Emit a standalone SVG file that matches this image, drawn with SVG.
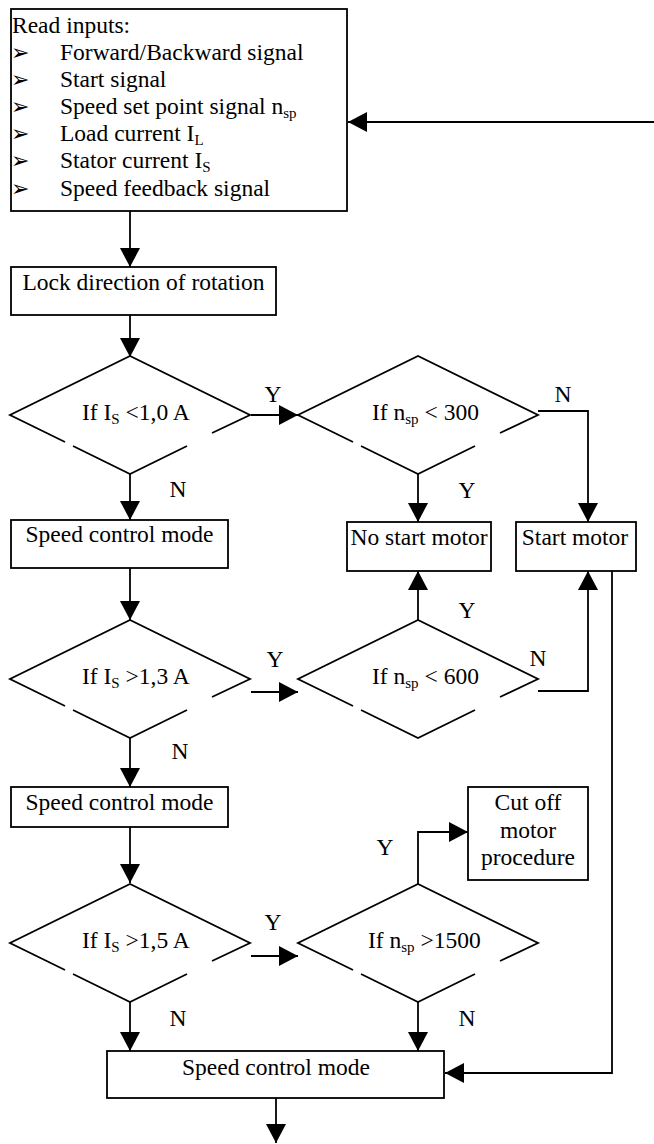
<svg xmlns="http://www.w3.org/2000/svg" width="654" height="1144" viewBox="0 0 654 1144">
<style>
  .box { fill: #fff; stroke: #000; stroke-width: 1.8; }
  .dia { fill: none; stroke: #000; stroke-width: 1.8; }
  .ln { fill: none; stroke: #000; stroke-width: 1.8; }
  .arr { marker-end: url(#ah); }
  text { font-family: "Liberation Serif", "Times New Roman", serif; font-size: 23.5px; fill: #000; }
  .c { text-anchor: middle; }
  .sub { font-size: 15px; }
  .bul { font-family: "DejaVu Sans", sans-serif; font-size: 22px; }
</style>
<defs>
  <marker id="ah" markerUnits="userSpaceOnUse" markerWidth="20" markerHeight="20" refX="19" refY="10" orient="auto">
    <path d="M0,0 L19,10 L0,20 Z" fill="#000"/>
  </marker>
</defs>
<rect width="654" height="1144" fill="#fff"/>

<g id="connectors">
  <path class="ln arr" d="M654,122 L348,122"/>
  <path class="ln arr" d="M130,211 L130,267"/>
  <path class="ln arr" d="M130,315 L130,357"/>
  <path class="ln arr" d="M251,415 L298,415"/>
  <path class="ln arr" d="M130,474 L130,520"/>
  <path class="ln arr" d="M418,474 L418,522"/>
  <path class="ln arr" d="M538,411 L588,411 L588,522"/>
  <path class="ln arr" d="M130,568 L130,620"/>
  <path class="ln arr" d="M251,692 L298,692"/>
  <path class="ln arr" d="M130,738 L130,787"/>
  <path class="ln arr" d="M418,620 L418,571"/>
  <path class="ln arr" d="M538,691 L588,691 L588,571"/>
  <path class="ln arr" d="M130,827 L130,883"/>
  <path class="ln arr" d="M251,956 L298,956"/>
  <path class="ln arr" d="M418,884 L418,832 L468,832"/>
  <path class="ln arr" d="M130,1002 L130,1051"/>
  <path class="ln arr" d="M418,1002 L418,1051"/>
  <path class="ln arr" d="M612,571 L612,1073 L445,1073"/>
  <path class="ln arr" d="M276,1098 L276,1143"/>
  <text class="c" x="273" y="402">Y</text>
  <text class="c" x="563" y="402">N</text>
  <text class="c" x="178" y="497">N</text>
  <text class="c" x="467" y="498">Y</text>
  <text class="c" x="275" y="667">Y</text>
  <text class="c" x="180" y="759">N</text>
  <text class="c" x="467" y="618">Y</text>
  <text class="c" x="538" y="666">N</text>
  <text class="c" x="385" y="855">Y</text>
  <text class="c" x="273" y="930">Y</text>
  <text class="c" x="178" y="1026">N</text>
  <text class="c" x="467" y="1026">N</text>
</g>

<g id="read-inputs">
  <rect class="box" x="11" y="9" width="336" height="202"/>
  <text x="12" y="33">Read inputs:</text>
  <text class="bul" x="11" y="60">➢</text>
  <text x="60" y="60">Forward/Backward signal</text>
  <text class="bul" x="11" y="87">➢</text>
  <text x="60" y="87">Start signal</text>
  <text class="bul" x="11" y="114">➢</text>
  <text x="60" y="114">Speed set point signal n<tspan class="sub" dy="4">sp</tspan></text>
  <text class="bul" x="11" y="141">➢</text>
  <text x="60" y="141">Load current I<tspan class="sub" dy="4">L</tspan></text>
  <text class="bul" x="11" y="168">➢</text>
  <text x="60" y="168">Stator current I<tspan class="sub" dy="4">S</tspan></text>
  <text class="bul" x="11" y="196">➢</text>
  <text x="60" y="196">Speed feedback signal</text>
</g>

<g id="lock-direction">
  <rect class="box" x="11" y="267" width="265" height="48"/>
  <text class="c" x="143.5" y="290">Lock direction of rotation</text>
</g>

<g id="if-is-1-0">
  <path class="dia" d="M65,442 L10,415 L130,356 L250,415 L212,433 M187,446 L130,474 L73,446"/>
  <text x="82" y="420">If I<tspan class="sub" dy="4">S</tspan><tspan dy="-4"> &lt;1,0 A</tspan></text>
</g>

<g id="if-nsp-300">
  <path class="dia" d="M353,442 L298,415 L418,356 L538,415 L500,433 M475,446 L418,474 L361,446"/>
  <text x="372" y="420">If n<tspan class="sub" dy="4">sp</tspan><tspan dy="-4"> &lt; 300</tspan></text>
</g>

<g id="speed-control-1">
  <rect class="box" x="11" y="520" width="217" height="48"/>
  <text class="c" x="119.5" y="542">Speed control mode</text>
</g>

<g id="no-start-motor">
  <rect class="box" x="347" y="522" width="144" height="49"/>
  <text class="c" x="419" y="545">No start motor</text>
</g>

<g id="start-motor">
  <rect class="box" x="516" y="522" width="120" height="49"/>
  <text class="c" x="575" y="545">Start motor</text>
</g>

<g id="if-is-1-3">
  <path class="dia" d="M65,706 L10,679 L130,620 L250,679 L212,697 M187,710 L130,738 L73,710"/>
  <text x="82" y="684">If I<tspan class="sub" dy="4">S</tspan><tspan dy="-4"> &gt;1,3 A</tspan></text>
</g>

<g id="if-nsp-600">
  <path class="dia" d="M353,706 L298,679 L418,620 L538,679 L500,697 M475,710 L418,738 L361,710"/>
  <text x="372" y="684">If n<tspan class="sub" dy="4">sp</tspan><tspan dy="-4"> &lt; 600</tspan></text>
</g>

<g id="speed-control-2">
  <rect class="box" x="11" y="787" width="217" height="40"/>
  <text class="c" x="119.5" y="810">Speed control mode</text>
</g>

<g id="cut-off-motor">
  <rect class="box" x="468" y="787" width="120" height="93"/>
  <text class="c" x="528" y="810">Cut off</text>
  <text class="c" x="528" y="838">motor</text>
  <text class="c" x="528" y="865">procedure</text>
</g>

<g id="if-is-1-5">
  <path class="dia" d="M65,970 L10,943 L130,884 L250,943 L212,961 M187,974 L130,1002 L73,974"/>
  <text x="82" y="948">If I<tspan class="sub" dy="4">S</tspan><tspan dy="-4"> &gt;1,5 A</tspan></text>
</g>

<g id="if-nsp-1500">
  <path class="dia" d="M353,970 L298,943 L418,884 L538,943 L500,961 M475,974 L418,1002 L361,974"/>
  <text x="368" y="948">If n<tspan class="sub" dy="4">sp</tspan><tspan dy="-4"> &gt;1500</tspan></text>
</g>

<g id="speed-control-3">
  <rect class="box" x="107" y="1051" width="337" height="47"/>
  <text class="c" x="276" y="1075">Speed control mode</text>
</g>
</svg>
